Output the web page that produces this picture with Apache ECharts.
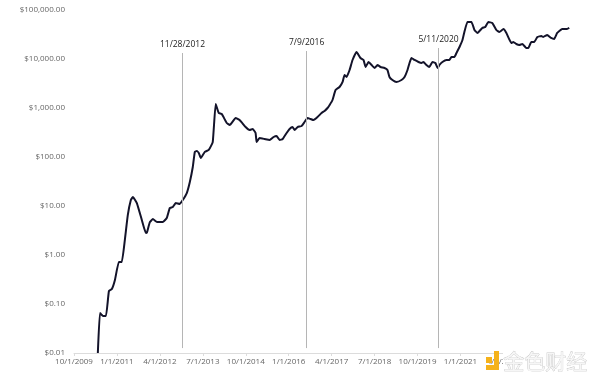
<!DOCTYPE html>
<html>
<head>
<meta charset="utf-8">
<script src="https://cdn.jsdelivr.net/npm/echarts@6/dist/echarts.min.js"></script>
<style>
html,body{margin:0;padding:0;background:#fff;}
#chart{width:600px;height:387px;}
</style>
</head>
<body>
<div id="chart"></div>
<script>
// ---- data ----
const dates = [
"2010-06-11","2010-07-03","2010-08-04","2010-09-06","2010-10-07","2010-11-08","2010-12-10","2011-01-21","2011-02-22","2011-03-24",
"2011-04-25","2011-05-27","2011-06-18","2011-07-30","2011-09-22","2011-11-04","2011-11-16","2011-12-16","2012-01-18","2012-03-01",
"2012-05-01","2012-06-13","2012-07-15","2012-08-16","2012-09-17","2012-10-30","2012-12-01","2013-01-13","2013-02-15","2013-03-16",
"2013-04-07","2013-04-28","2013-05-19","2013-06-10","2013-07-22","2013-09-03","2013-10-15","2013-11-16","2013-12-18","2014-01-19",
"2014-03-12","2014-04-13","2014-06-15","2014-07-27","2014-09-30","2014-11-11","2014-12-13","2015-01-14","2015-01-25","2015-02-26",
"2015-04-19","2015-06-11","2015-07-23","2015-08-24","2015-09-26","2015-10-28","2015-12-09","2016-01-10","2016-02-11","2016-03-03",
"2016-04-04","2016-05-16","2016-06-17","2016-07-19","2016-08-20","2016-09-21","2016-11-03","2016-12-15","2017-01-17","2017-02-18",
"2017-03-10","2017-04-10","2017-05-12","2017-06-24","2017-07-26","2017-08-16","2017-09-07","2017-10-09","2017-11-10","2017-12-22",
"2018-02-03","2018-03-05","2018-03-27","2018-04-28","2018-05-30","2018-07-01","2018-08-01","2018-09-03","2018-10-15","2018-11-16",
"2018-12-07","2019-01-08","2019-02-20","2019-04-13","2019-05-15","2019-06-16","2019-07-07","2019-07-28","2019-08-30","2019-10-11",
"2019-11-12","2019-12-03","2020-01-04","2020-02-05","2020-03-07","2020-04-08","2020-05-01","2020-05-21","2020-06-22","2020-08-04",
"2020-09-05","2020-09-26","2020-10-28","2020-11-19","2020-12-21","2021-01-22","2021-02-12","2021-03-14","2021-04-26","2021-05-28",
"2021-06-29","2021-08-20","2021-09-21","2021-10-23","2021-12-04","2022-01-17","2022-02-18","2022-04-01","2022-05-02","2022-06-24",
"2022-07-15","2022-08-16","2022-09-17","2022-10-19","2022-12-01","2022-12-22","2023-01-23","2023-02-24","2023-03-27","2023-05-09",
"2023-05-28","2023-07-10","2023-08-21","2023-09-23","2023-10-25","2023-12-17","2024-02-08","2024-03-01"
];
const prices = [
0.01,0.0655,0.057,0.057,0.184,0.202,0.309,0.72,0.72,2.02,
6.5,13.2,15.3,11.5,5.2,2.8,2.9,4.7,5.4,4.7,
4.7,5.7,9.1,9.5,11.5,11.0,13.3,18.4,30.9,62.5,
127,132,121,95.5,127,139,202,1208,791,755,
494,450,625,569,409,356,373,309,202,244,
233,222,256,268,222,233,309,373,409,356,
409,429,518,625,597,569,655,791,868,1000,
1151,1456,2329,2685,3395,4714,4295,5968,9545,13900,
10480,9545,6870,8690,7550,6550,7550,6870,6550,5968,
4295,3727,3395,3727,4295,5968,8280,10480,9545,8690,
8280,8690,7550,6870,8690,8280,6550,7550,8690,9545,
9545,11000,11000,13250,17580,24440,35560,56900,56900,39070,
33990,42950,44990,56900,54300,39070,35560,40950,33990,21220,
22230,20240,19320,20240,16760,16760,22230,22230,28120,29440,
28120,30900,26850,25600,33990,40950,40950,42950
];
const xTickLabels = ["10/1/2009","1/1/2011","4/1/2012","7/1/2013","10/1/2014","1/1/2016","4/1/2017","7/1/2018","10/1/2019","1/1/2021","4/1/2022","7/1/2023"];
const yTickLabels = ["$0.01","$0.10","$1.00","$10.00","$100.00","$1,000.00","$10,000.00","$100,000.00"];
const annotationDates = ["2012-11-28","2016-07-09","2020-05-11"];
const annotationLabels = ["11/28/2012","7/9/2016","5/11/2020"];
const annotationTops = [13250, 14550, 16760];
const annotationBottom = 0.0126;

// months since 10/1/2009
function toMonths(s){
  const [y,m,d] = s.split("-").map(Number);
  return (y-2009)*12 + (m-10) + (d-1)/30.4;
}
const seriesData = dates.map((d,i)=>[toMonths(d), prices[i]]);

const markData = annotationDates.map((d,i)=>[
  {coord:[toMonths(d), annotationTops[i]],
   label:{show:true, position:'start', formatter:annotationLabels[i], distance:4,
          color:'#222', fontSize:8.5, fontFamily:'Open Sans'}},
  {coord:[toMonths(d), annotationBottom]}
]);

const chart = echarts.init(document.getElementById('chart'), null, {renderer:'canvas'});
chart.setOption({
  animation:false,
  backgroundColor:'#fff',
  grid:{left:74, right:25, top:10, bottom:34},
  xAxis:{
    type:'value', min:0, max:175, interval:15,
    splitLine:{show:false},
    axisLine:{lineStyle:{color:'#dcdcdc', width:1}},
    axisTick:{show:true, length:3, lineStyle:{color:'#dcdcdc'}},
    axisLabel:{
      color:'#666', fontSize:8, fontFamily:'Open Sans', margin:5,
      showMaxLabel:false,
      formatter:v=>xTickLabels[Math.round(v/15)] || ''
    }
  },
  yAxis:{
    type:'log', logBase:10, min:0.01, max:100000,
    splitLine:{show:false},
    axisLine:{show:false},
    axisTick:{show:false},
    axisLabel:{
      color:'#666', fontSize:8, fontFamily:'Open Sans', margin:9,
      formatter:v=>yTickLabels[Math.round(Math.log10(v))+2] || ''
    }
  },
  series:[{
    type:'line',
    data:seriesData,
    showSymbol:false,
    smooth:0.12,
    lineStyle:{color:'#13132a', width:2},
    markLine:{
      silent:true,
      symbol:'none',
      lineStyle:{color:'#b5b5b5', width:1, type:'solid'},
      data:markData
    }
  }],
  graphic:[
    {type:'rect', left:503, top:349, z:100, shape:{width:95, height:26}, style:{fill:'#ffffff'}},
    {type:'rect', left:486, top:357, z:101, shape:{width:6, height:6}, style:{fill:'#f5b21b'}},
    {type:'rect', left:494, top:351, z:101, shape:{width:5, height:18}, style:{fill:'#f5b21b'}},
    {type:'rect', left:486, top:365, z:101, shape:{width:13, height:5}, style:{fill:'#f5b21b'}},
    {type:'text', left:503, top:350, z:102, style:{text:'金色财经', fontSize:21, fontFamily:'Noto Sans CJK SC', fill:'#f6f6f6', stroke:'#bbbbbb', lineWidth:0.6}}
  ]
});
</script>
</body>
</html>
